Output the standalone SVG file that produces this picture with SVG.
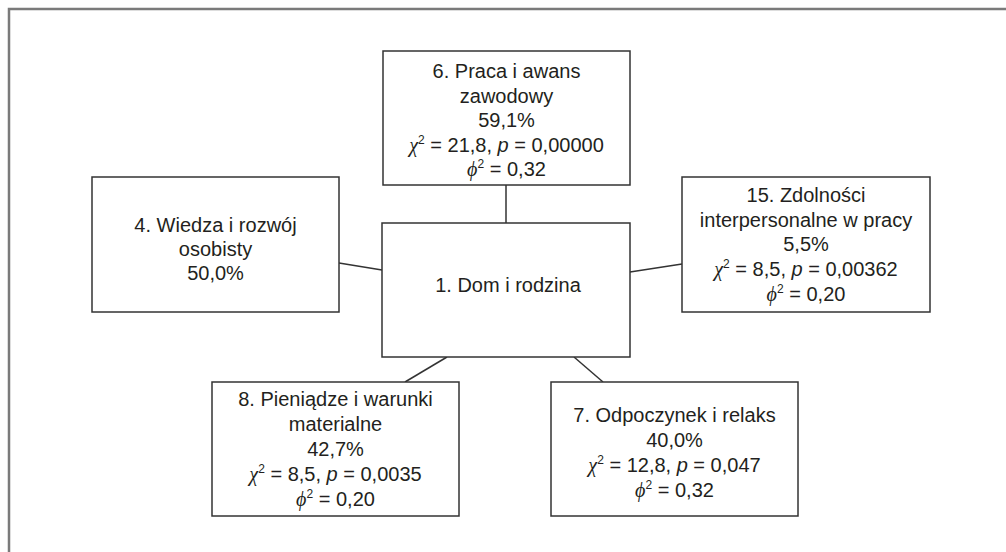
<svg xmlns="http://www.w3.org/2000/svg" width="1006" height="552" viewBox="0 0 1006 552">
  <style>
    .frame { fill: none; stroke: #7a7a7a; stroke-width: 2.5; }
    .box { fill: #ffffff; stroke: #333333; stroke-width: 1.5; }
    .link { fill: none; stroke: #333333; stroke-width: 1.5; }
    text { font-family: "Liberation Sans", Arial, sans-serif; font-size: 20px; fill: #231f20; text-anchor: middle; }
    .gr { font-family: "Liberation Serif", "Times New Roman", serif; font-style: italic; }
    .it { font-style: italic; }
    .sup { font-size: 12px; }
  </style>

  <!-- outer frame (right and bottom edges run past the canvas) -->
  <rect class="frame" x="9" y="9" width="1010" height="560"/>

  <!-- connectors -->
  <g id="connectors">
    <line class="link" x1="506" y1="185" x2="506" y2="223"/>
    <line class="link" x1="339" y1="263" x2="382" y2="270"/>
    <line class="link" x1="630" y1="272" x2="682" y2="264"/>
    <line class="link" x1="447" y1="357" x2="405" y2="382"/>
    <line class="link" x1="574" y1="357" x2="603" y2="382"/>
  </g>

  <g id="node-6">
    <rect class="box" x="383" y="51" width="247" height="134"/>
    <text x="506.5" y="78">6. Praca i awans</text>
    <text x="506.5" y="102.5">zawodowy</text>
    <text x="506.5" y="127">59,1%</text>
    <text x="506.5" y="151.5"><tspan class="gr">χ</tspan><tspan class="sup" dy="-8">2</tspan><tspan dy="8"> = 21,8, </tspan><tspan class="it">p</tspan> = 0,00000</text>
    <text x="506.5" y="176"><tspan class="gr">ϕ</tspan><tspan class="sup" dy="-8">2</tspan><tspan dy="8"> = 0,32</tspan></text>
  </g>

  <g id="node-1">
    <rect class="box" x="382" y="223" width="248" height="134"/>
    <text x="508" y="292">1. Dom i rodzina</text>
  </g>

  <g id="node-4">
    <rect class="box" x="92" y="177" width="247" height="135"/>
    <text x="215.5" y="232">4. Wiedza i rozwój</text>
    <text x="215.5" y="256">osobisty</text>
    <text x="215.5" y="280">50,0%</text>
  </g>

  <g id="node-15">
    <rect class="box" x="682" y="177" width="248" height="135"/>
    <text x="806" y="202">15. Zdolności</text>
    <text x="806" y="226.5">interpersonalne w pracy</text>
    <text x="806" y="251">5,5%</text>
    <text x="806" y="276"><tspan class="gr">χ</tspan><tspan class="sup" dy="-8">2</tspan><tspan dy="8"> = 8,5, </tspan><tspan class="it">p</tspan> = 0,00362</text>
    <text x="806" y="301"><tspan class="gr">ϕ</tspan><tspan class="sup" dy="-8">2</tspan><tspan dy="8"> = 0,20</tspan></text>
  </g>

  <g id="node-8">
    <rect class="box" x="212" y="382" width="247" height="134"/>
    <text x="335.5" y="406">8. Pieniądze i warunki</text>
    <text x="335.5" y="431">materialne</text>
    <text x="335.5" y="456">42,7%</text>
    <text x="335.5" y="481"><tspan class="gr">χ</tspan><tspan class="sup" dy="-8">2</tspan><tspan dy="8"> = 8,5, </tspan><tspan class="it">p</tspan> = 0,0035</text>
    <text x="335.5" y="506"><tspan class="gr">ϕ</tspan><tspan class="sup" dy="-8">2</tspan><tspan dy="8"> = 0,20</tspan></text>
  </g>

  <g id="node-7">
    <rect class="box" x="551" y="382" width="247" height="134"/>
    <text x="674.5" y="422">7. Odpoczynek i relaks</text>
    <text x="674.5" y="447">40,0%</text>
    <text x="674.5" y="472"><tspan class="gr">χ</tspan><tspan class="sup" dy="-8">2</tspan><tspan dy="8"> = 12,8, </tspan><tspan class="it">p</tspan> = 0,047</text>
    <text x="674.5" y="497"><tspan class="gr">ϕ</tspan><tspan class="sup" dy="-8">2</tspan><tspan dy="8"> = 0,32</tspan></text>
  </g>
</svg>
